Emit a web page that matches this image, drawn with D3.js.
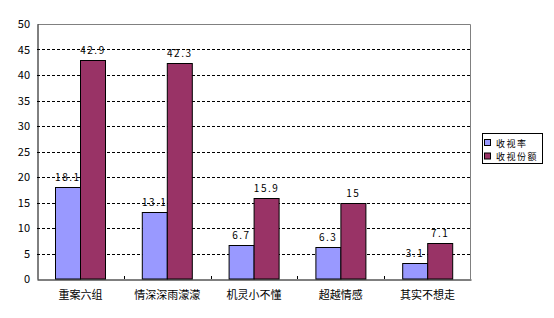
<!DOCTYPE html>
<html>
<head>
<meta charset="utf-8">
<script src="https://cdn.jsdelivr.net/npm/d3@7"></script>
<style>
  body { margin: 0; background: #fff; }
  text { font-family: "Noto Sans CJK SC", "DejaVu Sans", sans-serif; }
</style>
</head>
<body>
<div id="chart"></div>
<script>
const categories = ["重案六组", "情深深雨濛濛", "机灵小不懂", "超越情感", "其实不想走"];
const seriesNames = ["收视率", "收视份额"];
const rating = [18.1, 13.1, 6.7, 6.3, 3.1];
const share = [42.9, 42.3, 15.9, 15, 7.1];
const yTicks = [0, 5, 10, 15, 20, 25, 30, 35, 40, 45, 50];
const colors = ["#9999ff", "#993366"];

const W = 554, H = 318;
const margin = {top: 24, right: 83, bottom: 39, left: 37},
    width = W - margin.left - margin.right,
    height = H - margin.top - margin.bottom;

const svg = d3.select("#chart").append("svg")
    .attr("width", W)
    .attr("height", H);

const g = svg.append("g")
    .attr("transform", `translate(${margin.left}, ${margin.top})`);

const x = d3.scaleBand()
    .domain(categories)
    .range([0, width]);

const xInner = d3.scaleBand()
    .domain(seriesNames)
    .range([x.bandwidth() * 0.21, x.bandwidth() * 0.79]);

const y = d3.scaleLinear()
    .domain([0, 50])
    .range([height, 0]);

// gridlines
g.append("g")
    .selectAll("line")
    .data(yTicks.filter(t => t > 0 && t < 50))
    .enter()
    .append("line")
    .attr("x1", 0)
    .attr("x2", width)
    .attr("y1", d => Math.round(y(d)) + 0.5)
    .attr("y2", d => Math.round(y(d)) + 0.5)
    .attr("stroke", "#000")
    .attr("stroke-dasharray", "3,2");

// top & right border
g.append("path")
    .attr("d", `M0.5,0.5H${width - 0.5}V${height}`)
    .attr("fill", "none")
    .attr("stroke", "#808080");

// y axis
const yAxis = g.append("g")
    .call(d3.axisLeft(y).tickValues(yTicks).tickSize(0).tickPadding(7));
yAxis.select(".domain").attr("stroke", "#000").attr("transform", "translate(0.5,0)");
yAxis.selectAll("text").attr("font-size", 11).attr("fill", "#000");

const data = categories.map((c, i) => ({cat: c, values: [rating[i], share[i]]}));

const groups = g.append("g")
    .selectAll("g")
    .data(data)
    .enter()
    .append("g")
    .attr("transform", d => `translate(${x(d.cat)}, 0)`);

groups.selectAll("rect")
    .data(d => d.values.map((v, i) => ({name: seriesNames[i], v: v, i: i})))
    .enter()
    .append("rect")
    .attr("x", d => Math.round(xInner(d.name)) + 0.5)
    .attr("y", d => Math.round(y(d.v)) + 0.5)
    .attr("width", Math.round(xInner.bandwidth()))
    .attr("height", d => height - Math.round(y(d.v)) - 0.5)
    .attr("fill", d => colors[d.i])
    .attr("stroke", "#000");

groups.selectAll("text.val")
    .data(d => d.values.map((v, i) => ({name: seriesNames[i], v: v})))
    .enter()
    .append("text")
    .attr("class", "val")
    .attr("x", d => xInner(d.name) + xInner.bandwidth() / 2)
    .attr("y", d => y(d.v) - 6)
    .attr("text-anchor", "middle")
    .attr("font-size", 10)
    .attr("letter-spacing", 1.5)
    .attr("fill", "#000")
    .text(d => d.v);

// x axis
const xAxis = g.append("g")
    .attr("transform", `translate(0, ${height})`)
    .call(d3.axisBottom(x).tickSize(0).tickPadding(12));
xAxis.select(".domain").attr("stroke", "#000").attr("transform", "translate(0,0.5)");
xAxis.selectAll("text").attr("font-size", 11).attr("fill", "#000");

g.append("g")
    .selectAll("line")
    .data(categories.slice(1))
    .enter()
    .append("line")
    .attr("x1", d => Math.round(x(d)) + 0.5)
    .attr("x2", d => Math.round(x(d)) + 0.5)
    .attr("y1", height - 3)
    .attr("y2", height)
    .attr("stroke", "#000");

// legend
const legend = svg.append("g")
    .attr("transform", "translate(482, 133)");

legend.append("rect")
    .attr("x", 0.5)
    .attr("y", 0.5)
    .attr("width", 60)
    .attr("height", 30)
    .attr("fill", "#fff")
    .attr("stroke", "#000");

const items = legend.selectAll("g.item")
    .data(seriesNames)
    .enter()
    .append("g")
    .attr("class", "item")
    .attr("transform", (d, i) => `translate(0, ${i * 13.5})`);

items.append("rect")
    .attr("x", 2.5)
    .attr("y", 6.5)
    .attr("width", 6)
    .attr("height", 6)
    .attr("fill", (d, i) => colors[i])
    .attr("stroke", "#000");

items.append("text")
    .attr("x", 14)
    .attr("y", 13.5)
    .attr("font-size", 9)
    .attr("letter-spacing", 1.5)
    .attr("fill", "#000")
    .text(d => d);
</script>
</body>
</html>
